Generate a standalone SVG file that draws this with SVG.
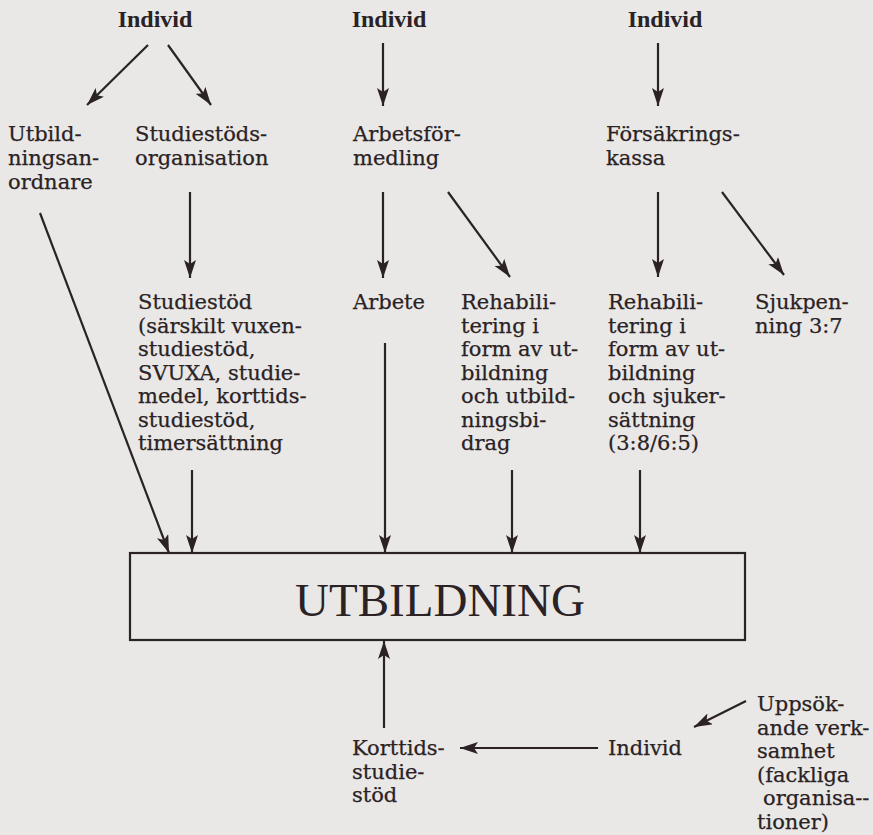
<svg xmlns="http://www.w3.org/2000/svg" width="873" height="835" viewBox="0 0 873 835">
<style>
.t{font-family:"DejaVu Serif","Liberation Serif",serif;font-size:21px;fill:#2a2224;stroke:#2a2224;stroke-width:0.25}
.b{font-family:"Liberation Serif","Times New Roman",serif;font-size:24px;font-weight:bold;fill:#2a2224;text-anchor:middle}
.big{font-family:"Liberation Serif","Times New Roman",serif;font-size:47px;fill:#2a2224;text-anchor:middle}
.c line{stroke:#2a2224;stroke-width:2.2;marker-end:url(#ah)}
</style>
<defs>
<marker id="ah" markerUnits="userSpaceOnUse" markerWidth="20" markerHeight="14" refX="18" refY="6" orient="auto">
<path d="M0,0 L18,6 L0,12 L4,6 z" fill="#2a2224"/>
</marker>
</defs>
<rect width="873" height="835" fill="#e9e8e6"/>
<g id="individ1"><text class="b" x="155" y="27">Individ</text></g>
<g id="individ2"><text class="b" x="389" y="27">Individ</text></g>
<g id="individ3"><text class="b" x="665" y="27">Individ</text></g>
<g id="utbildningsanordnare"><text class="t" x="8" y="141">Utbild-</text><text class="t" x="8" y="165">ningsan-</text><text class="t" x="8" y="189">ordnare</text></g>
<g id="studiestodsorganisation"><text class="t" x="135" y="141">Studiestöds-</text><text class="t" x="135" y="165">organisation</text></g>
<g id="arbetsformedling"><text class="t" x="353" y="141">Arbetsför-</text><text class="t" x="353" y="165">medling</text></g>
<g id="forsakringskassa"><text class="t" x="606" y="141">Försäkrings-</text><text class="t" x="606" y="165">kassa</text></g>
<g id="studiestod"><text class="t" x="138" y="309">Studiestöd</text><text class="t" x="138" y="332.5">(särskilt vuxen-</text><text class="t" x="138" y="356">studiestöd,</text><text class="t" x="138" y="379.5">SVUXA, studie-</text><text class="t" x="138" y="403">medel, korttids-</text><text class="t" x="138" y="426.5">studiestöd,</text><text class="t" x="138" y="450">timersättning</text></g>
<g id="arbete"><text class="t" x="353" y="309">Arbete</text></g>
<g id="rehab1"><text class="t" x="461" y="309">Rehabili-</text><text class="t" x="461" y="332.5">tering i</text><text class="t" x="461" y="356">form av ut-</text><text class="t" x="461" y="379.5">bildning</text><text class="t" x="461" y="403">och utbild-</text><text class="t" x="461" y="426.5">ningsbi-</text><text class="t" x="461" y="450">drag</text></g>
<g id="rehab2"><text class="t" x="608" y="309">Rehabili-</text><text class="t" x="608" y="332.5">tering i</text><text class="t" x="608" y="356">form av ut-</text><text class="t" x="608" y="379.5">bildning</text><text class="t" x="608" y="403">och sjuker-</text><text class="t" x="608" y="426.5">sättning</text><text class="t" x="608" y="450">(3:8/6:5)</text></g>
<g id="sjukpenning"><text class="t" x="755" y="309">Sjukpen-</text><text class="t" x="755" y="332.5">ning 3:7</text></g>
<g id="utbildning"><rect x="130" y="553" width="615" height="87" fill="none" stroke="#2a2224" stroke-width="2.2"/><text class="big" x="440" y="616">UTBILDNING</text></g>
<g id="korttidsstudiestod"><text class="t" x="352" y="755">Korttids-</text><text class="t" x="352" y="779">studie-</text><text class="t" x="352" y="802">stöd</text></g>
<g id="individ4"><text class="t" x="608" y="755">Individ</text></g>
<g id="uppsokande"><text class="t" x="757" y="711">Uppsök-</text><text class="t" x="757" y="734.5">ande verk-</text><text class="t" x="757" y="758">samhet</text><text class="t" x="757" y="781.5">(fackliga</text><text class="t" x="763" y="805">organisa--</text><text class="t" x="757" y="828.5">tioner)</text></g>
<g id="connectors" class="c">
<line x1="148" y1="45" x2="87" y2="105"/>
<line x1="168" y1="45" x2="211" y2="105"/>
<line x1="383" y1="43" x2="383" y2="106"/>
<line x1="658" y1="43" x2="658" y2="106"/>
<line x1="190" y1="192" x2="190" y2="278"/>
<line x1="383" y1="192" x2="383" y2="278"/>
<line x1="448" y1="192" x2="510" y2="277"/>
<line x1="658" y1="192" x2="658" y2="277"/>
<line x1="722" y1="192" x2="784" y2="275"/>
<line x1="40" y1="213" x2="169" y2="553"/>
<line x1="192" y1="470" x2="192" y2="553"/>
<line x1="385" y1="343" x2="385" y2="553"/>
<line x1="512" y1="470" x2="512" y2="553"/>
<line x1="640" y1="470" x2="640" y2="553"/>
<line x1="384" y1="728" x2="384" y2="641"/>
<line x1="598" y1="748" x2="460" y2="748"/>
<line x1="746" y1="701" x2="694" y2="727"/>
</g>
</svg>
